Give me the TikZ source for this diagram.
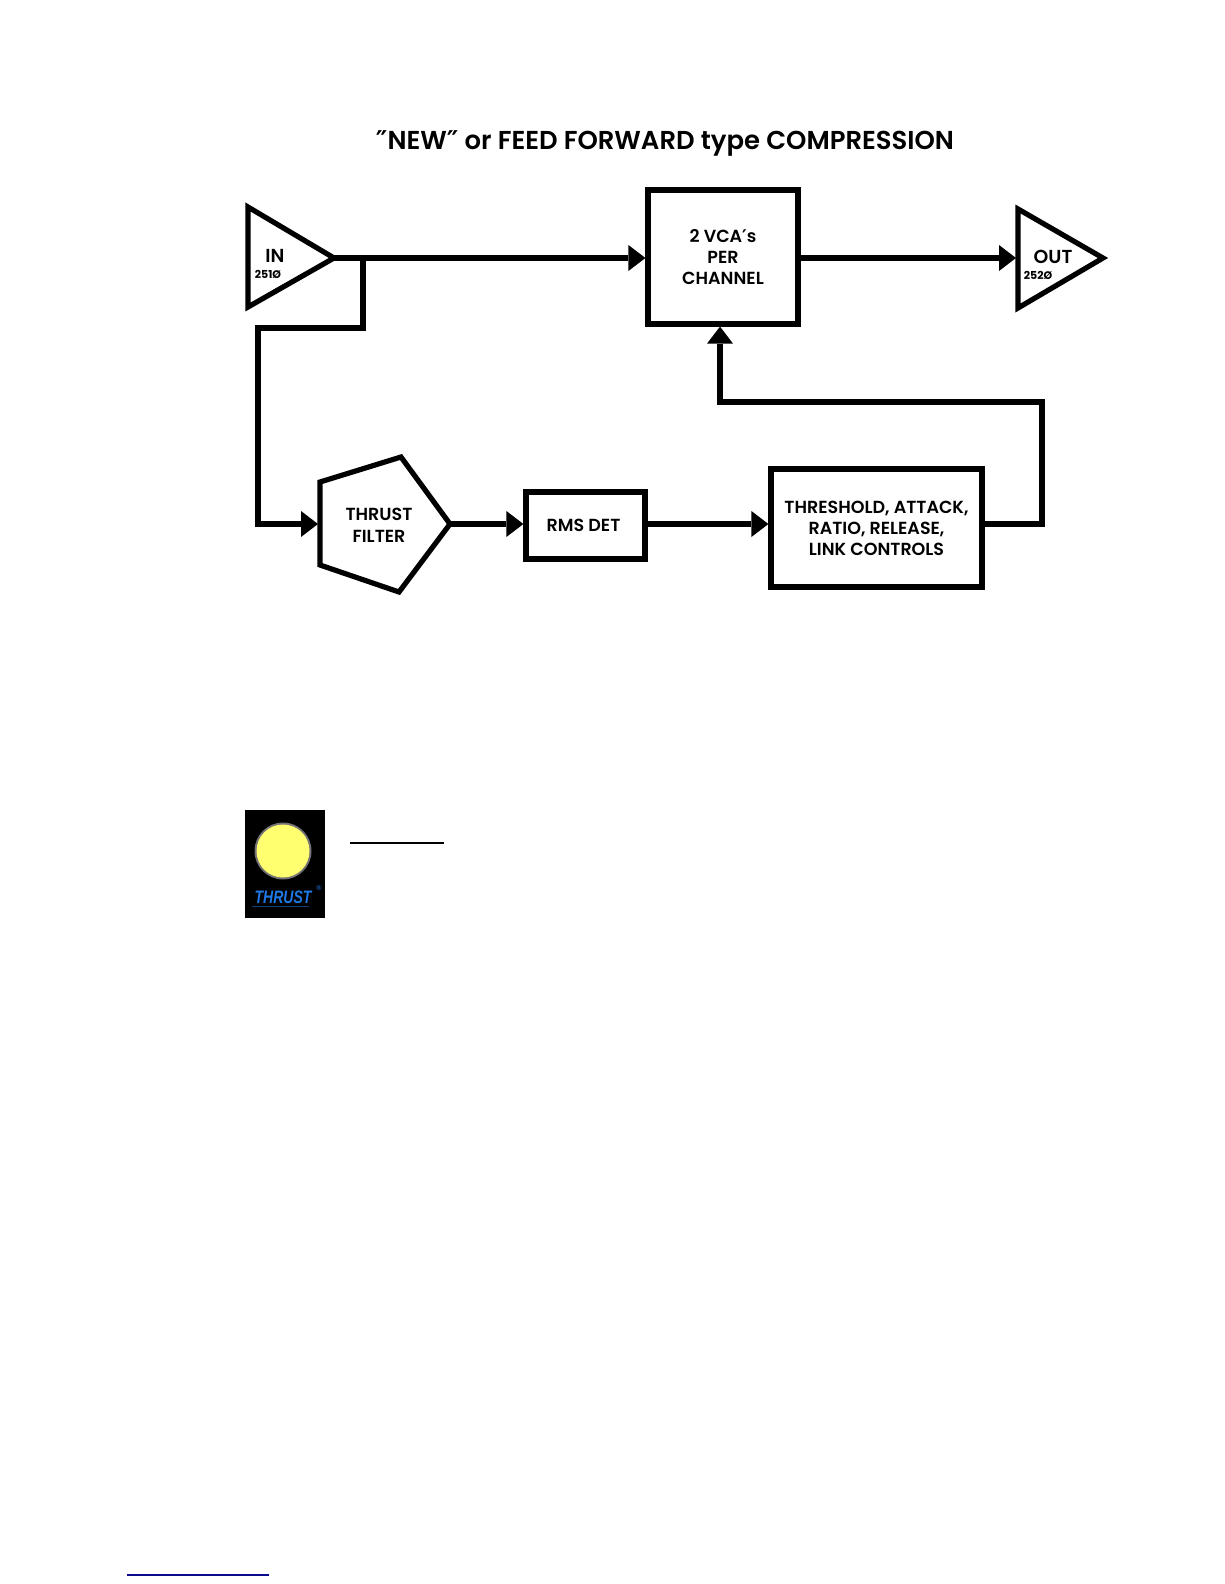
\documentclass[tikz,border=0pt]{standalone}
\usepackage{fontspec}
\setmainfont{Poppins}[BoldFont=Poppins SemiBold]
\newfontfamily\heavyfont{Poppins}
\newfontfamily\primefont{DejaVu Sans}
\newfontfamily\logofont{Liberation Sans}[BoldItalicFont=Liberation Sans Bold Italic]
\usetikzlibrary{arrows.meta}
\definecolor{logoblue}{RGB}{30,120,230}
\definecolor{lampyellow}{RGB}{255,255,112}
\definecolor{linkblue}{RGB}{10,10,140}
\newcommand{\lbl}{\bfseries\fontsize{17.5}{21}\selectfont}
\tikzset{
  x=1pt,y=-1pt,
  wire/.style={line width=5.6pt,line join=miter,miter limit=10},
  flow/.style={wire,-{Triangle[length=17pt,width=26pt,line width=0pt]}},
  shapeline/.style={line width=5.2pt,line join=miter,miter limit=10},
  blockbox/.style={draw,shapeline,inner sep=0pt,align=center,font=\lbl},
  blocktext/.style={inner sep=0pt,align=center,font=\lbl},
  smallnum/.style={inner sep=0pt,font=\heavyfont\bfseries\fontsize{11}{12}\selectfont},
  biglabel/.style={inner sep=0pt,font=\bfseries\fontsize{18.8}{20}\selectfont},
}
\begin{document}
\begin{tikzpicture}
\useasboundingbox (0,0) rectangle (1224,1584);
\fill[white] (0,0) rectangle (1224,1584);

\node[inner sep=0pt,font=\bfseries\fontsize{25.9}{28}\selectfont] (title) at (665,143)
  {{\primefont ″}NEW{\primefont ″} or FEED FORWARD type COMPRESSION};

% amplifier triangles
\coordinate (inA) at (248,207);
\coordinate (inB) at (248,307);
\coordinate (inTip) at (334,258);
\draw[shapeline] (inA) -- (inTip) -- (inB) -- cycle;
\node[biglabel] (inlabel) at (275,256) {IN};
\node[smallnum] (innum) at (268,274) {251Ø};

\coordinate (outA) at (1018,209);
\coordinate (outB) at (1018,308);
\coordinate (outTip) at (1103,258);
\draw[shapeline] (outA) -- (outTip) -- (outB) -- cycle;
\node[biglabel] (outlabel) at (1053,257) {OUT};
\node[smallnum] (outnum) at (1038,275) {252Ø};

% blocks
\node[blockbox,minimum width=150pt,minimum height=134pt] (vca) at (723,257)
  {2 VCA{\primefont ′}s\\PER\\CHANNEL};
\node[blockbox,minimum width=119pt,minimum height=67pt] (rms) at (585.5,525.5) {RMS DET\hspace{4pt}};
\node[blockbox,minimum width=211pt,minimum height=118pt] (thr) at (876.5,528)
  {THRESHOLD, ATTACK,\\RATIO, RELEASE,\\LINK CONTROLS};

% pentagon filter
\coordinate (pA) at (320,482);
\coordinate (pB) at (401,457);
\coordinate (pTip) at (450,524);
\coordinate (pD) at (399,592);
\coordinate (pE) at (320,565);
\draw[shapeline] (pA) -- (pB) -- (pTip) -- (pD) -- (pE) -- cycle;
\node[blocktext,font=\bfseries\fontsize{17.5}{22}\selectfont] (filter) at (379,525) {THRUST\\FILTER};

% connectors
\coordinate (branch) at (363,258);
\coordinate (bendA) at (363,328);
\coordinate (bendB) at (258,328);
\coordinate (bendC) at (258,524);
\coordinate (filterIn) at (318,524);
\coordinate (outIn) at (1016,258);
\coordinate (fbA) at (1042,524);
\coordinate (fbB) at (1042,402);
\coordinate (fbC) at (720,402);

\draw[flow] (inTip) -- (vca.west |- inTip);
\draw[flow] (vca.east |- outIn) -- (outIn);
\draw[flow] (branch) -- (bendA) -- (bendB) -- (bendC) -- (filterIn);
\draw[flow] (pTip) -- (rms.west |- pTip);
\draw[flow] (rms.east |- pTip) -- (thr.west |- pTip);
\draw[flow] (thr.east |- pTip) -- (fbA) -- (fbB) -- (fbC) -- (fbC |- vca.south);

% logo
\fill[black] (245,810) rectangle (325,918);
\fill[black!55!white] (283,851) circle (28.5);
\fill[lampyellow] (283,851) circle (26.5);
\node[inner sep=0pt,text=logoblue,font=\logofont\bfseries\itshape\fontsize{18}{18}\selectfont] (logotext) at (283,897) {\scalebox{0.78}[1]{THRUST}};
\node[inner sep=0pt,text=logoblue,font=\logofont\fontsize{7}{7}\selectfont] (logomark) at (319,888) {®};
\coordinate (logoA) at (252,906.5);
\coordinate (logoB) at (309,906.5);
\draw[line width=0.8pt,color=logoblue!50!black] (logoA) -- (logoB);

% rules
\coordinate (ruleA) at (350,843);
\coordinate (ruleB) at (444,843);
\draw[line width=1.1pt] (ruleA) -- (ruleB);
\coordinate (linkA) at (127,1575);
\coordinate (linkB) at (269,1575);
\draw[line width=1.1pt,color=linkblue] (linkA) -- (linkB);
\end{tikzpicture}
\end{document}
